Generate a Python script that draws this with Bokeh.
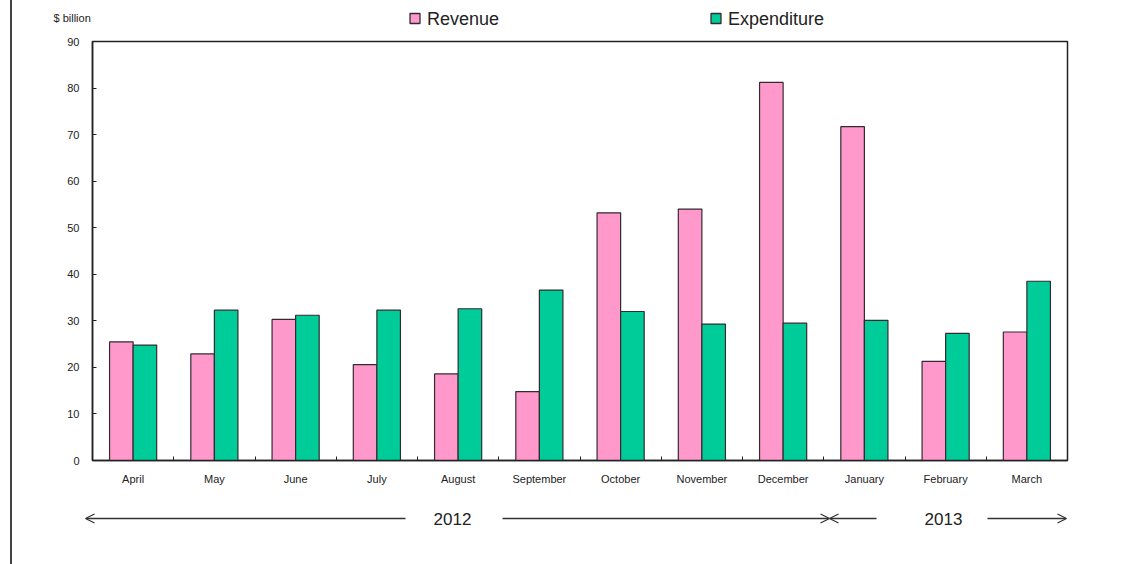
import numpy as np
from bokeh.plotting import figure
from bokeh.layouts import column
from bokeh.models import ColumnDataSource, Range1d, FixedTicker, Arrow, OpenHead
from bokeh.core.properties import value
from bokeh.transform import dodge
from bokeh.embed import file_html
from bokeh.resources import INLINE

months = ["April", "May", "June", "July", "August", "September", "October",
          "November", "December", "January", "February", "March"]
revenue = [25.5, 22.9, 30.3, 20.6, 18.6, 14.8, 53.2, 54.0, 81.2, 71.7, 21.3, 27.6]
expenditure = [24.8, 32.3, 31.2, 32.3, 32.6, 36.6, 32.0, 29.3, 29.5, 30.1, 27.3, 38.5]
y_ticks = [0, 10, 20, 30, 40, 50, 60, 70, 80, 90]
years = ["2012", "2013"]
series = ["Revenue", "Expenditure"]
unit_label = "$ billion"

W = 1126
L, R = 92, 1067          # frame left/right in page px
TOP_H = 31               # header strip
MAIN_T, MAIN_B = 10, 32  # main figure top/bottom borders
FRAME_H = 419
BOT_H = 564 - TOP_H - MAIN_T - FRAME_H - MAIN_B
FONT = "Liberation Sans"
INK = "#222222"
EDGE = "#332b30"
PINK = "#FF99CC"
GREEN = "#00CC99"
PAGE_BG = {"background": "linear-gradient(to right, #ffffff 10px, #444444 10px, "
                         "#444444 12px, #ffffff 12px)"}

def strip(h):
    f = figure(width=W, height=h, output_backend="svg", toolbar_location=None,
               x_range=Range1d(0, W), y_range=Range1d(h, 0),
               min_border=0, x_axis_type=None, y_axis_type=None, frame_align=False)
    f.outline_line_color = None
    f.xgrid.visible = False
    f.ygrid.visible = False
    f.background_fill_alpha = 0
    f.border_fill_alpha = 0
    f.styles = PAGE_BG
    return f

# ---------------- main chart ----------------
pos = np.arange(len(months)) + 0.5
src = ColumnDataSource(dict(x=pos, month=months, rev=revenue, exp=expenditure))

p = figure(width=W, height=MAIN_T + FRAME_H + MAIN_B, output_backend="svg",
           toolbar_location=None, x_range=Range1d(0, len(months)),
           y_range=Range1d(0, 90), min_border_left=L, min_border_right=W - R,
           min_border_top=MAIN_T, min_border_bottom=MAIN_B)
p.background_fill_color = "white"
p.border_fill_alpha = 0
p.styles = PAGE_BG
p.outline_line_color = INK
p.outline_line_width = 1.5
p.xgrid.visible = False
p.ygrid.visible = False

bw = 0.29
bar_style = dict(width=bw, source=src, line_color=EDGE, line_width=1.2)
p.vbar(x=dodge("x", -bw / 2, range=p.x_range), top="rev", fill_color=PINK, **bar_style)
p.vbar(x=dodge("x", bw / 2, range=p.x_range), top="exp", fill_color=GREEN, **bar_style)

ya = p.yaxis[0]
ya.ticker = FixedTicker(ticks=y_ticks)
ya.major_tick_in = 4
ya.major_tick_out = 0
ya.minor_tick_line_color = None
ya.axis_line_width = 1.5
ya.axis_line_color = INK
ya.major_tick_line_color = INK
ya.major_label_text_font = FONT
ya.major_label_text_font_size = "11px"
ya.major_label_text_color = INK
ya.major_label_standoff = 13

xa = p.xaxis[0]
xa.ticker = FixedTicker(ticks=list(pos), minor_ticks=list(np.arange(1, len(months))))
xa.major_label_overrides = {float(v): m for v, m in zip(pos, months)}
xa.major_tick_in = 0
xa.major_tick_out = 0
xa.minor_tick_in = 4
xa.minor_tick_out = 0
xa.minor_tick_line_color = INK
xa.axis_line_width = 1.5
xa.axis_line_color = INK
xa.major_label_text_font = FONT
xa.major_label_text_font_size = "11px"
xa.major_label_text_color = INK
xa.major_label_standoff = 12

# ---------------- header: unit label + legend ----------------
top = strip(TOP_H)
top.text(x=[53], y=[17], text=[unit_label], text_font=value(FONT),
         text_font_size="11px", text_color=INK, text_baseline="middle")
key_x = [414.5, 715.5]
top.rect(x=key_x, y=[18, 18], width=10, height=10, fill_color=[PINK, GREEN],
         line_color=EDGE, line_width=1.3)
top.text(x=[x + 12 for x in key_x], y=[18, 18], text=series, text_font=value(FONT),
         text_font_size="18px", text_color=INK, text_baseline="middle")

# ---------------- footer: year arrows ----------------
bot = strip(BOT_H)
y0 = 564 - BOT_H
ay = 518 - y0
ac = "#333333"

def arr(x0, x1):
    bot.add_layout(Arrow(x_start=x0, y_start=ay, x_end=x1, y_end=ay,
                         end=OpenHead(size=9, line_color=ac, line_width=1.3),
                         line_color=ac, line_width=1.3))

arr(405, 85)
arr(502, 829)
arr(876, 829)
arr(987, 1066)
bot.text(x=[452, 943], y=[ay, ay], text=years, text_font=value(FONT),
         text_font_size="17px", text_align="center", text_baseline="middle",
         text_color=INK)

layout = column(top, p, bot, spacing=0)
open("out.html", "w").write(file_html(layout, INLINE))
